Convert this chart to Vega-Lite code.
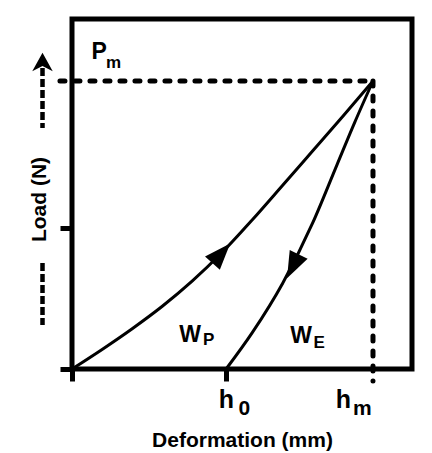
{
  "$schema": "https://vega.github.io/schema/vega-lite/v6.json",
  "description": "Load-deformation curve of a loading and unloading cycle, with plastic (WP) and elastic (WE) work areas.",
  "width": 340,
  "height": 350,
  "autosize": {"type": "none"},
  "padding": {"left": 72, "top": 19, "right": 20, "bottom": 84},
  "background": "white",
  "config": {
    "view": {"stroke": "black", "strokeWidth": 5},
    "font": "Liberation Sans",
    "text": {"font": "Liberation Sans", "fontWeight": "bold", "color": "black"}
  },
  "datasets": {
    "curves": [
      {"curve": "loading", "deformation": 0, "load": 0},
      {"curve": "loading", "deformation": 0.1, "load": 0.068},
      {"curve": "loading", "deformation": 0.2, "load": 0.14},
      {"curve": "loading", "deformation": 0.3, "load": 0.218},
      {"curve": "loading", "deformation": 0.4, "load": 0.306},
      {"curve": "loading", "deformation": 0.5, "load": 0.406},
      {"curve": "loading", "deformation": 0.6, "load": 0.519},
      {"curve": "loading", "deformation": 0.7, "load": 0.638},
      {"curve": "loading", "deformation": 0.8, "load": 0.758},
      {"curve": "loading", "deformation": 0.9, "load": 0.878},
      {"curve": "loading", "deformation": 1, "load": 1},
      {"curve": "unloading", "deformation": 0.512, "load": 0},
      {"curve": "unloading", "deformation": 0.6, "load": 0.128},
      {"curve": "unloading", "deformation": 0.7, "load": 0.298},
      {"curve": "unloading", "deformation": 0.8, "load": 0.508},
      {"curve": "unloading", "deformation": 0.88, "load": 0.708},
      {"curve": "unloading", "deformation": 0.94, "load": 0.858},
      {"curve": "unloading", "deformation": 1, "load": 1}
    ],
    "arrows": [
      {"curve": "loading", "deformation": 0.485, "load": 0.389},
      {"curve": "unloading", "deformation": 0.741, "load": 0.372}
    ],
    "peak": [
      {"deformation": -0.04, "deformation_end": 1, "load": 1, "load_end": 1},
      {"deformation": 1, "deformation_end": 1, "load": 1, "load_end": -0.042}
    ],
    "load_hint": [
      {"deformation": -0.098, "deformation_end": -0.098, "load": 1.045, "load_end": 0.837},
      {"deformation": -0.098, "deformation_end": -0.098, "load": 0.368, "load_end": 0.153}
    ],
    "load_head": [
      {"deformation": -0.098, "load": 1.0625}
    ],
    "labels": [
      {"text": "P", "group": "peak", "part": "main", "deformation": 0.09, "load": 1.076},
      {"text": "m", "group": "peak", "part": "sub", "deformation": 0.138, "load": 1.045},
      {"text": "h", "group": "tick", "part": "main", "deformation": 0.513, "load": -0.135},
      {"text": "0", "group": "tick", "part": "sub", "deformation": 0.573, "load": -0.16},
      {"text": "h", "group": "tick", "part": "main", "deformation": 0.902, "load": -0.135},
      {"text": "m", "group": "tick", "part": "sub", "deformation": 0.965, "load": -0.16},
      {"text": "W", "group": "area", "part": "main", "deformation": 0.392, "load": 0.094},
      {"text": "P", "group": "area", "part": "sub", "deformation": 0.454, "load": 0.083},
      {"text": "W", "group": "area", "part": "main", "deformation": 0.761, "load": 0.09},
      {"text": "E", "group": "area", "part": "sub", "deformation": 0.821, "load": 0.073}
    ]
  },
  "layer": [
    {
      "data": {"name": "curves"},
      "mark": {"type": "line", "color": "black", "strokeWidth": 3, "interpolate": "monotone"},
      "encoding": {
        "x": {
          "field": "deformation",
          "type": "quantitative",
          "scale": {"domain": [0, 1.1296], "nice": false, "zero": false},
          "axis": {
            "title": "Deformation (mm)",
            "domain": false,
            "grid": false,
            "labels": false,
            "values": [0, 0.512],
            "tickSize": 12,
            "tickWidth": 5,
            "tickColor": "black",
            "titleFont": "Liberation Sans",
            "titleFontSize": 21,
            "titleFontWeight": "bold",
            "titleColor": "black",
            "titlePadding": 46
          }
        },
        "y": {
          "field": "load",
          "type": "quantitative",
          "scale": {"domain": [0, 1.2153], "nice": false, "zero": false},
          "axis": {
            "title": "Load (N)",
            "domain": false,
            "grid": false,
            "labels": false,
            "values": [0, 0.49],
            "tickSize": 12,
            "tickWidth": 5,
            "tickColor": "black",
            "titleFont": "Liberation Sans",
            "titleFontSize": 21,
            "titleFontWeight": "bold",
            "titleColor": "black",
            "titleAngle": -90,
            "titleAlign": "center",
            "titleBaseline": "middle",
            "titleX": -33,
            "titleY": 180
          }
        },
        "detail": {"field": "curve"}
      }
    },
    {
      "data": {"name": "peak"},
      "mark": {"type": "rule", "color": "black", "strokeWidth": 5, "strokeDash": [5, 10], "strokeCap": "round"},
      "encoding": {
        "x": {"field": "deformation", "type": "quantitative"},
        "x2": {"field": "deformation_end"},
        "y": {"field": "load", "type": "quantitative"},
        "y2": {"field": "load_end"}
      }
    },
    {
      "data": {"name": "load_hint"},
      "mark": {"type": "rule", "color": "black", "strokeWidth": 4.5, "strokeDash": [8, 3]},
      "encoding": {
        "x": {"field": "deformation", "type": "quantitative"},
        "x2": {"field": "deformation_end"},
        "y": {"field": "load", "type": "quantitative"},
        "y2": {"field": "load_end"}
      }
    },
    {
      "data": {"name": "load_head"},
      "mark": {"type": "point", "shape": "M0,-1L1,0.8L0,0.3L-1,0.8Z", "size": 420, "filled": true, "color": "black", "opacity": 1, "strokeWidth": 0},
      "encoding": {
        "x": {"field": "deformation", "type": "quantitative"},
        "y": {"field": "load", "type": "quantitative"}
      }
    },
    {
      "data": {"name": "arrows"},
      "transform": [{"filter": "datum.curve === 'loading'"}],
      "mark": {"type": "point", "shape": "M0,-1.1L-0.6,0.5L0.6,0.5Z", "size": 1100, "angle": 42, "filled": true, "color": "black", "opacity": 1, "strokeWidth": 0},
      "encoding": {
        "x": {"field": "deformation", "type": "quantitative"},
        "y": {"field": "load", "type": "quantitative"}
      }
    },
    {
      "data": {"name": "arrows"},
      "transform": [{"filter": "datum.curve === 'unloading'"}],
      "mark": {"type": "point", "shape": "M0,-1.1L-0.6,0.5L0.6,0.5Z", "size": 1100, "angle": 206, "filled": true, "color": "black", "opacity": 1, "strokeWidth": 0},
      "encoding": {
        "x": {"field": "deformation", "type": "quantitative"},
        "y": {"field": "load", "type": "quantitative"}
      }
    },
    {
      "data": {"name": "labels"},
      "transform": [{"filter": "datum.group === 'tick' && datum.part === 'main'"}],
      "mark": {"type": "text", "fontSize": 25, "align": "center", "baseline": "alphabetic"},
      "encoding": {
        "x": {"field": "deformation", "type": "quantitative"},
        "y": {"field": "load", "type": "quantitative"},
        "text": {"field": "text"}
      }
    },
    {
      "data": {"name": "labels"},
      "transform": [{"filter": "datum.group === 'tick' && datum.part === 'sub'"}],
      "mark": {"type": "text", "fontSize": 21, "align": "center", "baseline": "alphabetic"},
      "encoding": {
        "x": {"field": "deformation", "type": "quantitative"},
        "y": {"field": "load", "type": "quantitative"},
        "text": {"field": "text"}
      }
    },
    {
      "data": {"name": "labels"},
      "transform": [{"filter": "datum.group !== 'tick' && datum.part === 'main'"}],
      "mark": {"type": "text", "fontSize": 23, "align": "center", "baseline": "alphabetic"},
      "encoding": {
        "x": {"field": "deformation", "type": "quantitative"},
        "y": {"field": "load", "type": "quantitative"},
        "text": {"field": "text"}
      }
    },
    {
      "data": {"name": "labels"},
      "transform": [{"filter": "datum.group !== 'tick' && datum.part === 'sub'"}],
      "mark": {"type": "text", "fontSize": 17, "align": "center", "baseline": "alphabetic"},
      "encoding": {
        "x": {"field": "deformation", "type": "quantitative"},
        "y": {"field": "load", "type": "quantitative"},
        "text": {"field": "text"}
      }
    }
  ]
}
